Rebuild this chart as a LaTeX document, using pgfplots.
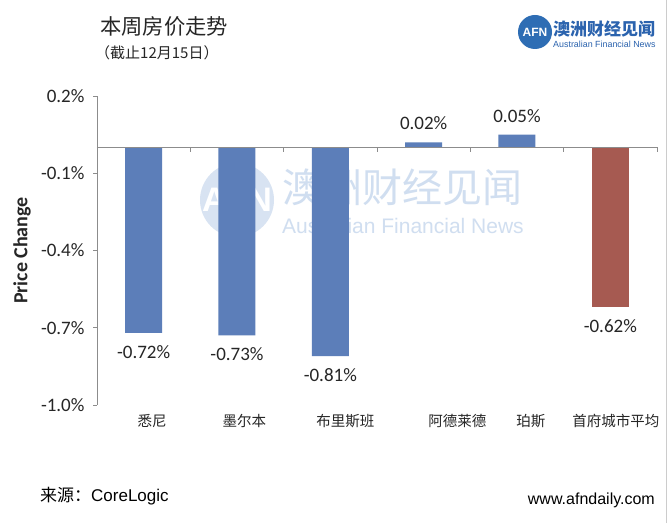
\documentclass[border=0pt]{standalone}
\usepackage{pgfplots}
\pgfplotsset{compat=1.18}
\usepackage{fontspec}
\setmainfont{Carlito}
\newfontfamily\cjk{Noto Sans CJK SC}
\newfontfamily\arial{Liberation Sans}
\definecolor{barblue}{HTML}{5C7EB9}
\definecolor{barred}{HTML}{A65A51}
\definecolor{axgray}{HTML}{8C8C8C}
\definecolor{txt}{HTML}{262626}
\definecolor{logoblue}{HTML}{2E6DB4}
\definecolor{logotext}{HTML}{2B63AE}
\definecolor{wmcircle}{HTML}{D8E3F2}
\definecolor{wmtext}{HTML}{D0DEF0}
\begin{document}
\begin{tikzpicture}
\useasboundingbox[fill=white] (0pt,0pt) rectangle (670pt,523pt);
% right edge artifact line
\draw[color=black!20, line width=0.6pt] (666.5pt,0pt) -- (666.5pt,523pt);
% watermark
\fill[wmcircle] (237pt,323pt) circle (37pt);
\node[inner sep=0, text=white, font=\arial\bfseries\fontsize{34}{34}\selectfont] at (237pt,323pt) {AFN};
\node[anchor=west, inner sep=0, text=wmtext, font=\cjk\fontsize{40}{40}\selectfont] at (282pt,336pt) {澳洲财经见闻};
\node[anchor=west, inner sep=0, text=wmtext, font=\arial\fontsize{21}{21}\selectfont] at (282pt,297pt) {Australian Financial News};
% title
\node[anchor=west, inner sep=0, text=txt, font=\cjk\fontsize{21.3}{21.3}\selectfont] at (100pt,497pt) {本周房价走势};
\node[anchor=west, inner sep=0, text=txt, font=\cjk\fontsize{15}{15}\selectfont] at (95pt,470pt) {（截止12月15日）};
% logo
\fill[logoblue] (535pt,491pt) circle (17pt);
\node[inner sep=0, text=white, font=\arial\bfseries\fontsize{12}{12}\selectfont] at (535pt,491pt) {AFN};
\node[anchor=west, inner sep=0, text=logotext, font=\cjk\bfseries\fontsize{17}{17}\selectfont] at (553pt,494pt) {澳洲财经见闻};
\node[anchor=west, inner sep=0, text=logotext, font=\arial\fontsize{8.9}{8.9}\selectfont] at (553pt,479pt) {Australian Financial News};
% footer
\node[anchor=west, inner sep=0, text=black, font=\cjk\fontsize{17}{17}\selectfont] at (40pt,27pt) {来源：{\arial CoreLogic}};
\node[anchor=east, inner sep=0, text=black, font=\arial\fontsize{16}{16}\selectfont] at (655pt,23pt) {www.afndaily.com};
\begin{axis}[
  at={(97pt,118pt)}, anchor=south west,
  scale only axis, width=560pt, height=309pt,
  xmin=-0.5, xmax=5.5, ymin=-1.0, ymax=0.2,
  axis x line*=bottom, axis y line*=left,
  x axis line style={draw=none},
  y axis line style={draw=axgray, line width=0.8pt, -},
  ytick={-1.0,-0.7,-0.4,-0.1,0.2},
  yticklabels={-1.0\%,-0.7\%,-0.4\%,-0.1\%,0.2\%},
  xtick={0.09,1.08,2.16,3.36,4.15,5.06},
  xticklabels={悉尼,墨尔本,布里斯班,阿德莱德,珀斯,首府城市平均},
  x tick label style={font=\cjk\fontsize{14.5}{14.5}\selectfont, text=txt, anchor=center, yshift=-12pt},
  y tick label style={font=\fontsize{19}{19}\selectfont, text=txt, xshift=-5pt},
  major x tick style={draw=none},
  major y tick style={draw=axgray, line width=0.8pt},
  tick align=outside, major tick length=4pt,
  ytick pos=left, xtick pos=bottom,
  ylabel={Price Change},
  ylabel style={font=\bfseries\fontsize{20}{20}\selectfont, text=txt, at={(axis description cs:-0.134,0.5)}, anchor=center},
  ybar, bar width=37pt,
  clip=false,
  nodes near coords, point meta=explicit symbolic,
  nodes near coords style={font=\fontsize{19}{19}\selectfont, text=txt},
]
\addplot[bar shift=0pt, fill=barblue, draw=none,
  every node near coord/.append style={anchor=center, yshift=-19pt}]
  coordinates {(0,-0.72) [-0.72\%] (1,-0.73) [-0.73\%] (2,-0.81) [-0.81\%]};
\addplot[bar shift=0pt, fill=barblue, draw=none,
  every node near coord/.append style={anchor=center, yshift=19pt}]
  coordinates {(3,0.02) [0.02\%] (4,0.05) [0.05\%]};
\addplot[bar shift=0pt, fill=barred, draw=none,
  every node near coord/.append style={anchor=center, yshift=-19pt}]
  coordinates {(5,-0.62) [-0.62\%]};
\draw[axgray, line width=0.8pt] (axis cs:-0.5,0) -- (axis cs:5.5,0);
\pgfplotsinvokeforeach{0.5,1.5,2.5,3.5,4.5,5.5}{
  \draw[axgray, line width=0.8pt] (axis cs:#1,0) -- ++(0pt,-5pt);
}
\end{axis}
\end{tikzpicture}
\end{document}
